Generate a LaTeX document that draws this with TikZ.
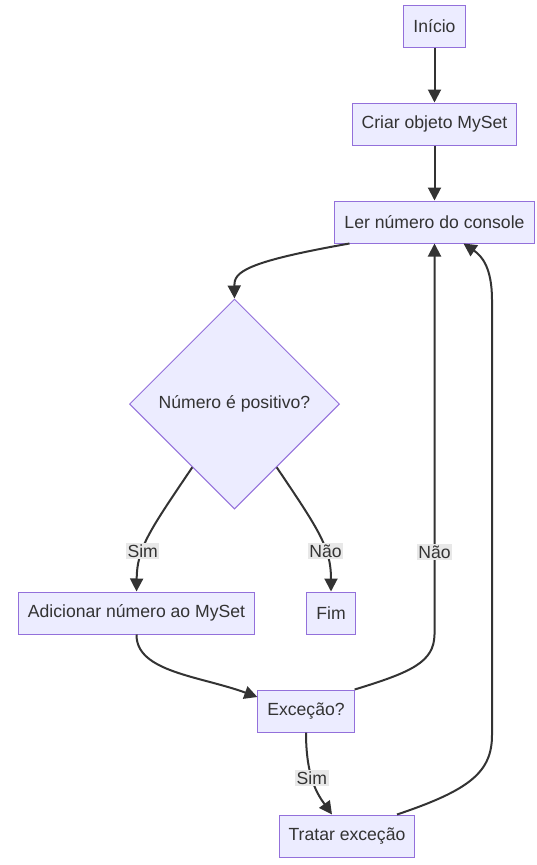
\documentclass[tikz,border=0pt]{standalone}
\usepackage{fontspec}
\setmainfont{Liberation Sans}
\usepackage{tikz}
\usetikzlibrary{shapes.geometric}
\usetikzlibrary{arrows.meta}
\usetikzlibrary{calc}
\definecolor{boxfill}{HTML}{ECECFF}
\definecolor{boxline}{HTML}{9370DB}
\definecolor{edge}{HTML}{333333}
\definecolor{lblfill}{HTML}{E8E8E8}
\tikzstyle{arrow}=[->,>={Triangle[length=13pt,width=13pt]},edge,line width=2pt]
\tikzstyle{box}=[rectangle,draw=boxline,fill=boxfill,line width=1pt,minimum height=42pt,inner xsep=9.5pt,text=edge]
\tikzstyle{decision}=[diamond,draw=boxline,fill=boxfill,line width=1pt,minimum size=210pt,inner sep=0pt,text=edge]
\tikzstyle{lbl}=[fill=lblfill,text=edge,inner sep=1.5pt]
\tikzset{every picture/.style={
    x=1pt,y=-1pt,font=\fontsize{17.6}{20}\selectfont
  }
}

\begin{document}
\begin{tikzpicture}
      \useasboundingbox (0,0) rectangle (536,865);
      \node[box] at (434.5,26) (start) {Início};
      \node[box] at (434.5,124) (criar) {Criar objeto MySet};
      \node[box] at (434.5,222) (ler) {Ler número do console};
      \node[decision] at (234.5,404) (positivo) {Número é positivo?};
      \node[box] at (136.5,613) (add) {Adicionar número ao MySet};
      \node[box] at (331,613) (fim) {Fim};
      \node[box] at (306,711) (excecao) {Exceção?};
      \node[box] at (347,836) (tratar) {Tratar exceção};

      \draw[arrow] (start) -- (criar);
      \draw[arrow] (criar) -- (ler);
      \draw[arrow] ($(ler.south west)+(15,0)$) .. controls (245,262) and (234,272) .. (positivo.north);
      \draw[arrow] ($(positivo.west)!0.6!(positivo.south)$) .. controls (150,530) and (137,548) .. node[lbl,pos=0.64]{Sim} (add.north);
      \draw[arrow] ($(positivo.east)!0.6!(positivo.south)$) .. controls (319,530) and (331,548) .. node[lbl,pos=0.64]{Não} (fim.north);
      \draw[arrow] (add.south) .. controls (136,672) and (200,676) .. ($(excecao.west)+(0,-14)$);
      \draw[arrow] (excecao.north east) .. controls (412,672) and (434,662) .. (ler.south |- add.south) -- node[lbl,pos=0.21]{Não} (ler.south);
      \draw[arrow] (excecao.south) .. controls (306,778) and (318,795) .. node[lbl,pos=0.43]{Sim} ($(tratar.north)+(-15,0)$);
      \draw[arrow] ($(tratar.north)+(50,0)$) .. controls (470,790) and (492,772) .. (492,735) -- (492,300) .. controls (492,268) and (482,256) .. ($(ler.south)+(29,0)$);
    \end{tikzpicture}
\end{document}
